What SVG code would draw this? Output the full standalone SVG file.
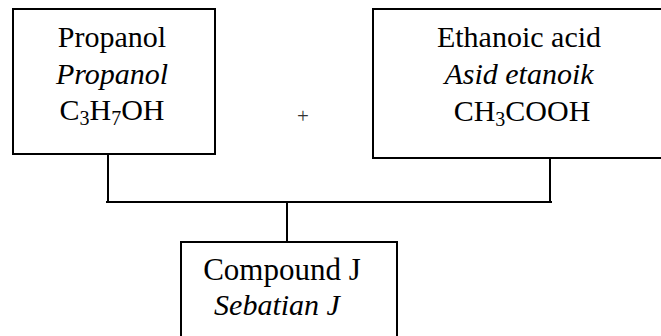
<svg xmlns="http://www.w3.org/2000/svg" width="661" height="336" viewBox="0 0 661 336">
<style>
.box{fill:#fff;stroke:#000;stroke-width:2}
.t{font-family:"Liberation Serif","Times New Roman",serif;font-size:30px;fill:#000;text-anchor:middle}
.i{font-style:italic}
.sub{font-size:20px}
.ln{stroke:#000;stroke-width:2;fill:none}
</style>
<rect width="661" height="336" fill="#fff"/>
<g id="propanol">
<rect class="box" x="13" y="9" width="202" height="145"/>
<text class="t" x="112" y="47">Propanol</text>
<text class="t i" x="112" y="84">Propanol</text>
<text class="t" x="112" y="120">C<tspan class="sub" dy="5">3</tspan><tspan dy="-5">H</tspan><tspan class="sub" dy="5">7</tspan><tspan dy="-5">OH</tspan></text>
</g>
<g id="plus">
<text class="t" x="303" y="123" style="font-size:21px;fill:#333">+</text>
</g>
<g id="ethanoic">
<rect class="box" x="373" y="9" width="300" height="149"/>
<text class="t" x="519" y="47">Ethanoic acid</text>
<text class="t i" x="519" y="84">Asid etanoik</text>
<text class="t" x="522" y="121">CH<tspan class="sub" dy="5">3</tspan><tspan dy="-5">COOH</tspan></text>
</g>
<g id="compound">
<rect class="box" x="181" y="242" width="216" height="110"/>
<text class="t" x="282" y="280" style="font-size:31px">Compound J</text>
<text class="t i" x="277" y="315">Sebatian J</text>
</g>
<g id="connectors">
<path class="ln" d="M108 154 V203 M550 158 V203 M106 202 H552 M287 202 V242"/>
</g>
</svg>
